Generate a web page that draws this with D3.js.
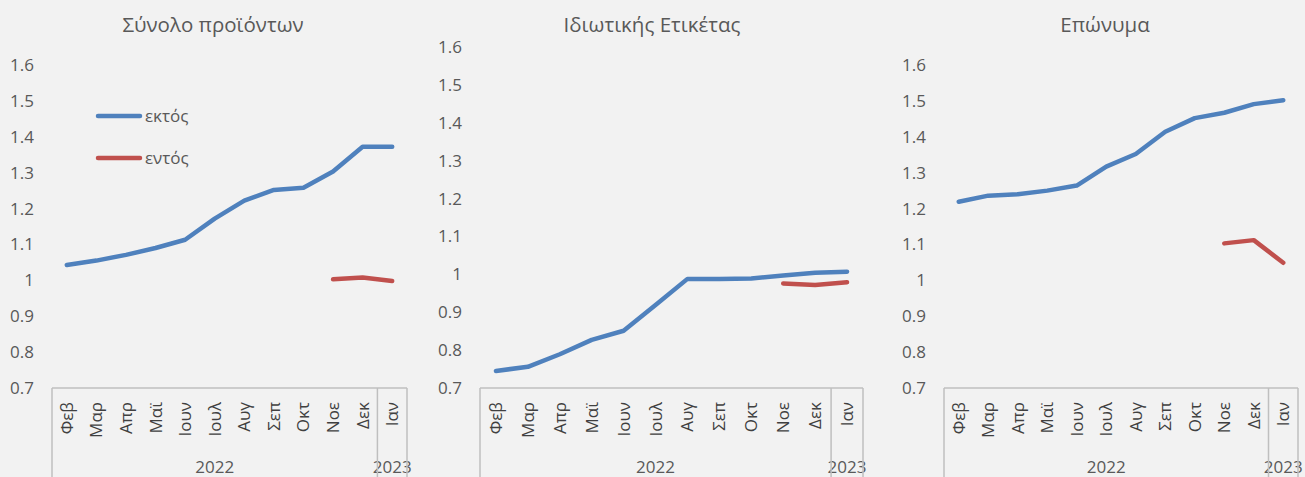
<!DOCTYPE html>
<html>
<head>
<meta charset="utf-8">
<script src="https://cdn.jsdelivr.net/npm/d3@7"></script>
<style>
  html, body { margin: 0; padding: 0; background: #f2f2f2; }
  svg { display: block; font-family: "Open Sans", "Noto Sans", sans-serif; }
</style>
</head>
<body>
<svg id="root" width="1305" height="477"></svg>
<script>
const months = ['Φεβ', 'Μαρ', 'Απρ', 'Μαϊ', 'Ιουν', 'Ιουλ', 'Αυγ', 'Σεπ', 'Οκτ', 'Νοε', 'Δεκ', 'Ιαν'];
const yearLabels = ['2022', '2023'];
const yearMonthCounts = [11, 1];
const yTicks = [0.7, 0.8, 0.9, 1, 1.1, 1.2, 1.3, 1.4, 1.5, 1.6];
const seriesNames = ['εκτός', 'εντός'];

const totalOut = [1.043, 1.055, 1.071, 1.090, 1.113, 1.172, 1.222, 1.252, 1.258, 1.303, 1.372, 1.372];
const totalIn = [null, null, null, null, null, null, null, null, null, 1.003, 1.008, 0.998];
const privateOut = [0.745, 0.756, 0.789, 0.827, 0.851, 0.919, 0.988, 0.988, 0.989, 0.997, 1.004, 1.007];
const privateIn = [null, null, null, null, null, null, null, null, null, 0.976, 0.972, 0.979];
const brandOut = [1.219, 1.236, 1.240, 1.250, 1.264, 1.317, 1.352, 1.414, 1.452, 1.467, 1.491, 1.502];
const brandIn = [null, null, null, null, null, null, null, null, null, 1.103, 1.112, 1.049];

const colors = ['#4f81bd', '#c0504d'];
const textColor = '#595959';
const axisColor = '#bfbfbf';

const root = d3.select('#root');
const svgHeight = +root.attr('height');

const panels = [
    { title: 'Σύνολο προϊόντων', series: [totalOut, totalIn], left: 52, right: 407, top: 65, titleX: 213, legend: true },
    { title: 'Ιδιωτικής Ετικέτας', series: [privateOut, privateIn], left: 480, right: 863, top: 47, titleX: 652, legend: false },
    { title: 'Επώνυμα', series: [brandOut, brandIn], left: 944, right: 1298, top: 65, titleX: 1105, legend: false }
];
const bottom = 388;

const drawPanel = (p) => {
    const g = root.append('g');
    const x = d3.scaleBand().domain(months).range([p.left, p.right]);
    const y = d3.scaleLinear().domain([0.7, 1.6]).range([bottom, p.top]);

    g.append('text')
        .attr('x', p.titleX)
        .attr('y', 32)
        .attr('text-anchor', 'middle')
        .attr('font-size', 20.5)
        .attr('fill', textColor)
        .text(p.title);

    // y axis labels only, no line
    const yAxis = g.append('g')
        .attr('transform', `translate(${p.left - 18},0)`)
        .call(d3.axisLeft(y).tickValues(yTicks).tickSize(0).tickPadding(0).tickFormat(d3.format('')));
    yAxis.select('.domain').remove();
    yAxis.selectAll('text')
        .attr('font-size', 17)
        .attr('font-family', '"Open Sans", sans-serif')
        .attr('fill', textColor);

    // category box
    g.append('line')
        .attr('x1', p.left).attr('x2', p.right)
        .attr('y1', bottom).attr('y2', bottom)
        .attr('stroke', axisColor).attr('stroke-width', 1.5);

    let idx = 0;
    const bounds = [p.left];
    yearMonthCounts.forEach((n, i) => {
        const x0 = x(months[idx]);
        idx += n;
        const x1 = x(months[idx - 1]) + x.bandwidth();
        bounds.push(x1);
        g.append('text')
            .attr('x', (x0 + x1) / 2)
            .attr('y', 473)
            .attr('text-anchor', 'middle')
            .attr('font-size', 17)
            .attr('fill', textColor)
            .text(yearLabels[i]);
    });
    g.selectAll('.vline')
        .data(bounds)
        .enter()
        .append('line')
        .attr('x1', d => d).attr('x2', d => d)
        .attr('y1', bottom).attr('y2', svgHeight)
        .attr('stroke', axisColor).attr('stroke-width', 1.5);

    g.selectAll('.month')
        .data(months)
        .enter()
        .append('text')
        .attr('transform', d => `translate(${x(d) + x.bandwidth() / 2 + 6},402) rotate(-90)`)
        .attr('text-anchor', 'end')
        .attr('font-size', 17)
        .attr('fill', '#404040')
        .text(d => d);

    const line = d3.line()
        .defined(d => d != null)
        .x((d, i) => x(months[i]) + x.bandwidth() / 2)
        .y(d => y(d));

    p.series.forEach((s, i) => {
        g.append('path')
            .datum(s)
            .attr('d', line)
            .attr('fill', 'none')
            .attr('stroke', colors[i])
            .attr('stroke-width', 4.5)
            .attr('stroke-linecap', 'round')
            .attr('stroke-linejoin', 'round');
    });

    if (p.legend) {
        seriesNames.forEach((name, i) => {
            const ly = 116 + i * 42;
            g.append('line')
                .attr('x1', 98).attr('x2', 140)
                .attr('y1', ly).attr('y2', ly)
                .attr('stroke', colors[i])
                .attr('stroke-width', 4.5)
                .attr('stroke-linecap', 'round');
            g.append('text')
                .attr('x', 145)
                .attr('y', ly + 6)
                .attr('font-size', 17)
                .attr('fill', textColor)
                .text(name);
        });
    }
};

panels.forEach(drawPanel);
</script>
</body>
</html>
